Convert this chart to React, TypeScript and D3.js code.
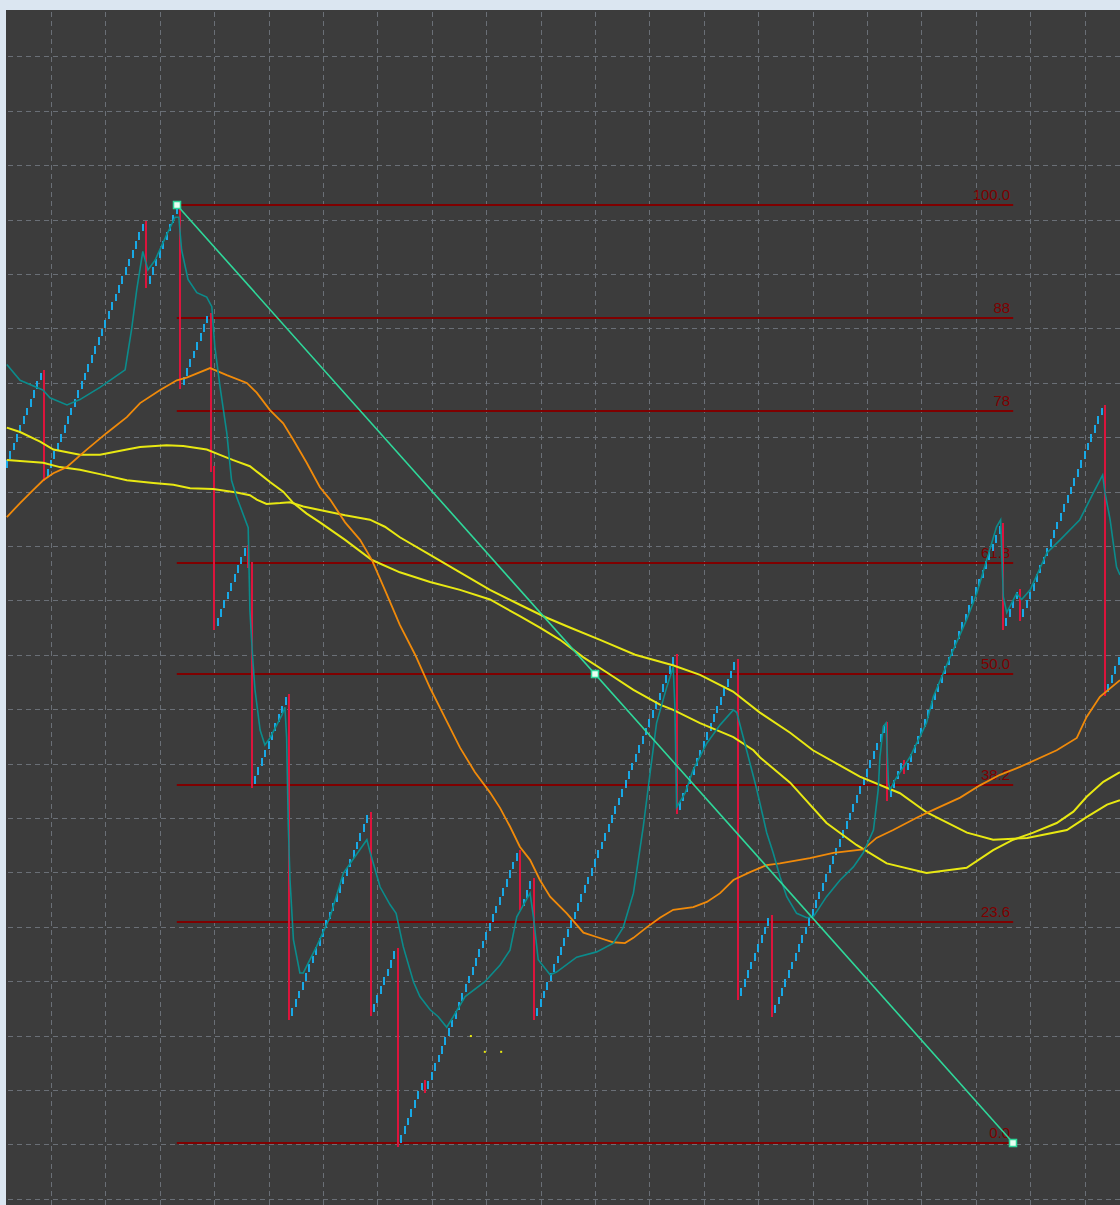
import * as d3 from "d3"

// renko swings: each swing is a run of up bricks from its low, then a drop to the next low
const BRICK = 10
const swingLows = [1770, 1760, 1980, 1865, 1590, 1410, 1145, 1150, 1000, 1062, 1270, 1145, 1380, 1168, 1148, 1395, 1425, 1590, 1600, 1515]
const swingBricks = [11, 29, 9, 8, 9, 10, 23, 7, 7, 27, 3, 41, 17, 9, 33, 4, 28, 4, 24, 4]
// drops that are split over two bars (swing index, intermediate level)
const splitDropAfter = [3, 4]
const splitDropLevel = [1770, 1660]

// fibonacci retracement
const fibLevels = [100, 88, 78, 61.8, 50, 38.2, 23.6, 0]
const fibLabels = ["100.0", "88", "78", "61.8", "50.0", "38.2", "23.6", "0.0"]
const fibHighBar = 50
const fibHighPrice = 2070
const fibLowBar = 296
const fibLowPrice = 1000

// moving averages (bar index, value)
const tealBars = [0, 3.9, 10.6, 12.7, 17.7, 21.5, 27.4, 34.8, 36.7, 38.2, 40.0, 41.5, 43.6, 47.0, 49.5, 50.6, 51.4, 53.3, 55.9, 58.8, 60.3, 61.2, 62.7, 64.7, 66.1, 67.6, 71.0, 71.5, 72.3, 73.0, 74.5, 75.9, 77.4, 80.9, 81.8, 82.3, 82.8, 83.3, 84.3, 86.2, 87.2, 91.1, 95.1, 99.0, 105.9, 106.9, 109.8, 112.7, 114.5, 116.6, 119.6, 121.5, 124.5, 126.9, 129.4, 131.3, 134.8, 140.6, 145.1, 148.0, 150.0, 153.9, 154.9, 156.3, 159.8, 161.7, 167.6, 173.5, 178.4, 181.3, 184.3, 187.2, 189.2, 191.1, 194.1, 196.0, 196.5, 197.0, 199.5, 201.9, 205.9, 209.8, 213.7, 214.7, 217.6, 220.6, 223.5, 225.4, 227.4, 229.4, 232.3, 235.3, 237.2, 241.1, 245.1, 249.0, 251.9, 254.9, 256.3, 256.8, 257.8, 258.6, 259.3, 259.8, 261.2, 265.6, 270.5, 272.5, 277.4, 282.3, 285.3, 288.2, 291.1, 292.3, 293.1, 294.1, 297.0, 298.5, 301.0, 305.9, 309.8, 315.6, 319.6, 322.3, 323.0, 324.5, 326.4, 327.4]
const tealValues = [1888, 1870, 1859, 1850, 1842, 1848, 1862, 1882, 1928, 1973, 2017, 1996, 2007, 2036, 2056, 2056, 2019, 1985, 1970, 1965, 1954, 1908, 1863, 1810, 1756, 1737, 1702, 1608, 1554, 1517, 1471, 1454, 1462, 1488, 1497, 1463, 1361, 1300, 1232, 1194, 1194, 1224, 1258, 1308, 1346, 1331, 1292, 1272, 1262, 1224, 1184, 1167, 1152, 1144, 1132, 1144, 1167, 1184, 1203, 1220, 1258, 1285, 1258, 1209, 1192, 1195, 1212, 1218, 1228, 1246, 1285, 1361, 1422, 1479, 1520, 1543, 1497, 1383, 1399, 1426, 1456, 1477, 1494, 1491, 1448, 1403, 1354, 1331, 1304, 1281, 1262, 1257, 1258, 1281, 1300, 1315, 1331, 1357, 1403, 1440, 1475, 1479, 1411, 1403, 1414, 1440, 1479, 1509, 1554, 1597, 1627, 1665, 1703, 1711, 1623, 1605, 1627, 1620, 1631, 1673, 1688, 1711, 1742, 1762, 1742, 1711, 1657, 1648]

const orangeBars = [0, 3.9, 7.8, 10.7, 13.7, 17.6, 23.5, 29.4, 35.3, 39.2, 45.1, 50.0, 52.9, 59.8, 64.7, 70.6, 73.5, 77.4, 81.3, 84.3, 88.2, 92.1, 95.1, 99.5, 103.9, 107.4, 111.2, 115.6, 120.1, 124.5, 128.9, 133.3, 137.7, 142.1, 145.1, 148.0, 150.9, 153.9, 156.8, 159.8, 164.7, 169.6, 173.5, 178.4, 181.8, 184.3, 188.2, 192.1, 196.0, 201.9, 205.9, 209.8, 213.7, 218.6, 223.5, 227.4, 236.2, 243.1, 251.9, 255.8, 260.7, 267.6, 272.5, 280.4, 286.2, 292.1, 298.0, 308.8, 314.7, 317.6, 321.5, 327.4]
const orangeValues = [1714, 1730, 1745, 1756, 1764, 1771, 1791, 1810, 1828, 1844, 1859, 1870, 1873, 1884, 1876, 1867, 1856, 1836, 1821, 1802, 1776, 1748, 1734, 1708, 1688, 1665, 1631, 1591, 1557, 1519, 1485, 1451, 1423, 1400, 1382, 1361, 1338, 1323, 1300, 1281, 1262, 1240, 1235, 1229, 1228, 1234, 1246, 1257, 1266, 1269, 1275, 1285, 1300, 1309, 1317, 1319, 1325, 1331, 1335, 1348, 1357, 1371, 1380, 1394, 1408, 1420, 1429, 1448, 1462, 1486, 1509, 1528]

const yellowFastBars = [0, 3.9, 9.8, 13.7, 21.5, 27.4, 35.3, 39.2, 47.0, 51.9, 58.8, 62.7, 66.6, 71.5, 74.5, 77.4, 81.3, 84.3, 88.2, 92.1, 99.5, 107.4, 115.6, 124.5, 133.3, 142.1, 150.9, 156.8, 162.7, 169.6, 176.4, 184.3, 192.1, 196.0, 203.9, 213.7, 219.6, 221.5, 230.4, 241.1, 249.9, 258.8, 270.5, 282.3, 290.1, 296.0, 301.9, 308.8, 313.7, 317.6, 322.5, 327.4]
const yellowFastValues = [1816, 1811, 1800, 1791, 1785, 1785, 1791, 1794, 1796, 1795, 1791, 1785, 1779, 1772, 1763, 1754, 1743, 1730, 1718, 1708, 1688, 1665, 1651, 1640, 1631, 1620, 1601, 1588, 1574, 1554, 1537, 1517, 1500, 1494, 1479, 1463, 1448, 1440, 1411, 1365, 1340, 1319, 1308, 1314, 1334, 1346, 1354, 1365, 1378, 1395, 1412, 1423]

const yellowSlowBars = [0, 10.7, 15.6, 21.5, 27.4, 35.3, 43.1, 49.0, 53.9, 60.7, 67.6, 71.5, 73.5, 76.4, 80.4, 83.3, 87.2, 92.1, 99.5, 106.8, 111.2, 115.6, 124.5, 133.3, 142.1, 150.9, 158.3, 165.6, 174.5, 184.8, 195.9, 203.9, 213.6, 221.5, 230.4, 237.1, 250.9, 262.7, 270.6, 282.4, 290.1, 300.1, 311.8, 317.7, 323.6, 327.4]
const yellowSlowValues = [1779, 1776, 1771, 1768, 1763, 1756, 1753, 1751, 1747, 1746, 1742, 1739, 1734, 1729, 1730, 1731, 1726, 1722, 1716, 1711, 1703, 1691, 1671, 1651, 1631, 1614, 1600, 1588, 1574, 1557, 1545, 1534, 1515, 1491, 1468, 1448, 1418, 1399, 1377, 1354, 1346, 1348, 1357, 1372, 1386, 1391]

// small fractal marks
const fractalBars = [136.5, 140.6, 145.4]
const fractalValues = [1122, 1104, 1104]

// grid
const gridBarStart = 13
const gridBarStep = 16
const gridPriceStart = 936.24
const gridPriceStep = 62.06

const W = 1120
const H = 1205
const plot = { left: 6, top: 10, right: 1120, bottom: 1205 }

type Bar = { i: number; from: number; to: number; up: boolean }

function buildBars(): Bar[] {
  const bars: Bar[] = []
  let i = 0
  swingLows.forEach((low, k) => {
    for (let b = 0; b < swingBricks[k]; b++) {
      bars.push({ i: i++, from: low + b * BRICK, to: low + (b + 1) * BRICK, up: true })
    }
    const high = low + swingBricks[k] * BRICK
    const next = swingLows[k + 1]
    if (next === undefined) return
    const s = splitDropAfter.indexOf(k)
    if (s >= 0) {
      bars.push({ i: i++, from: high, to: splitDropLevel[s], up: false })
      bars.push({ i: i++, from: splitDropLevel[s], to: next, up: false })
    } else {
      bars.push({ i: i++, from: high, to: next, up: false })
    }
  })
  return bars
}

export default function App() {
  const x = d3.scaleLinear().domain([0, 327]).range([6.8, 6.8 + 327 * 3.4])
  const y = d3.scaleLinear().domain([fibLowPrice, fibHighPrice]).range([1143, 205])

  const bars = buildBars()

  const vGrid = d3.range(gridBarStart, 340, gridBarStep)
  const hGrid = d3.range(gridPriceStart, 2300, gridPriceStep)

  const maLine = (bx: number[]) =>
    d3
      .line<number>()
      .x((_, j) => x(bx[j]))
      .y((d) => y(d))

  const fibX1 = x(fibHighBar)
  const fibX2 = x(fibLowBar)
  const fibY = (lvl: number) => Math.round(y(fibLowPrice + ((fibHighPrice - fibLowPrice) * lvl) / 100))

  const handles = [
    [fibX1, y(fibHighPrice)],
    [(fibX1 + fibX2) / 2, (y(fibHighPrice) + y(fibLowPrice)) / 2],
    [fibX2, y(fibLowPrice)],
  ]

  const bx = (i: number) => Math.round(x(i))

  return (
    <div style={{ position: "absolute", left: 0, top: 0 }}>
      <svg width={W} height={H} style={{ display: "block" }}>
        <defs>
          <clipPath id="plot">
            <rect x={plot.left} y={plot.top} width={plot.right - plot.left} height={plot.bottom - plot.top} />
          </clipPath>
        </defs>
        <rect width={W} height={H} fill="#dbe6f1" />
        <rect x={plot.left} y={plot.top} width={plot.right - plot.left} height={plot.bottom - plot.top} fill="#3c3c3c" />

        <g clipPath="url(#plot)">
          {/* grid */}
          <g stroke="#6a6f76" strokeWidth={1} strokeDasharray="5,4">
            {vGrid.map((b) => (
              <line key={"v" + b} x1={Math.round(x(b)) + 0.5} x2={Math.round(x(b)) + 0.5} y1={plot.top + 2} y2={plot.bottom} />
            ))}
            {hGrid.map((p) => (
              <line key={"h" + p} x1={plot.left + 2} x2={plot.right} y1={Math.round(y(p)) + 0.5} y2={Math.round(y(p)) + 0.5} />
            ))}
          </g>

          {/* fibonacci levels */}
          <g>
            {fibLevels.map((lvl, k) => (
              <g key={lvl}>
                <line x1={fibX1} x2={fibX2} y1={fibY(lvl)} y2={fibY(lvl)} stroke="#7f0000" strokeWidth={2} />
                <text
                  x={fibX2 - 3}
                  y={fibY(lvl) - 5}
                  textAnchor="end"
                  fill="#7f0000"
                  fontFamily="'Liberation Sans', Arial, sans-serif"
                  fontSize={15}
                >
                  {fibLabels[k]}
                </text>
              </g>
            ))}
          </g>

          {/* renko bars */}
          <g strokeWidth={2}>
            {bars.map((b) =>
              b.up ? (
                <line key={b.i} x1={bx(b.i)} x2={bx(b.i)} y1={Math.round(y(b.from))} y2={Math.round(y(b.to)) + 1} stroke="#19a9e6" />
              ) : (
                <line key={b.i} x1={bx(b.i)} x2={bx(b.i)} y1={Math.round(y(b.from)) - 2} y2={Math.round(y(b.to)) + 4} stroke="#dc143c" />
              ),
            )}
          </g>

          {/* moving averages */}
          <path d={maLine(yellowSlowBars)(yellowSlowValues) || ""} fill="none" stroke="#e8e812" strokeWidth={2} />
          <path d={maLine(yellowFastBars)(yellowFastValues) || ""} fill="none" stroke="#e8e812" strokeWidth={2} />
          <path d={maLine(orangeBars)(orangeValues) || ""} fill="none" stroke="#f08a0a" strokeWidth={1.8} />
          <path d={maLine(tealBars)(tealValues) || ""} fill="none" stroke="#0b8c8c" strokeWidth={1.6} />

          {fractalBars.map((b, k) => (
            <rect key={"f" + k} x={x(b) - 1} y={y(fractalValues[k]) - 1} width={2} height={2} fill="#e8e812" />
          ))}

          {/* trend line */}
          <line x1={fibX1} y1={y(fibHighPrice)} x2={fibX2} y2={y(fibLowPrice)} stroke="#2fd89a" strokeWidth={1.6} />
          {handles.map(([hx, hy], k) => (
            <rect key={"hd" + k} x={Math.round(hx) - 3.5} y={Math.round(hy) - 3.5} width={7} height={7} fill="#e9fff2" stroke="#2fd89a" strokeWidth={1.5} />
          ))}
        </g>
      </svg>
    </div>
  )
}
